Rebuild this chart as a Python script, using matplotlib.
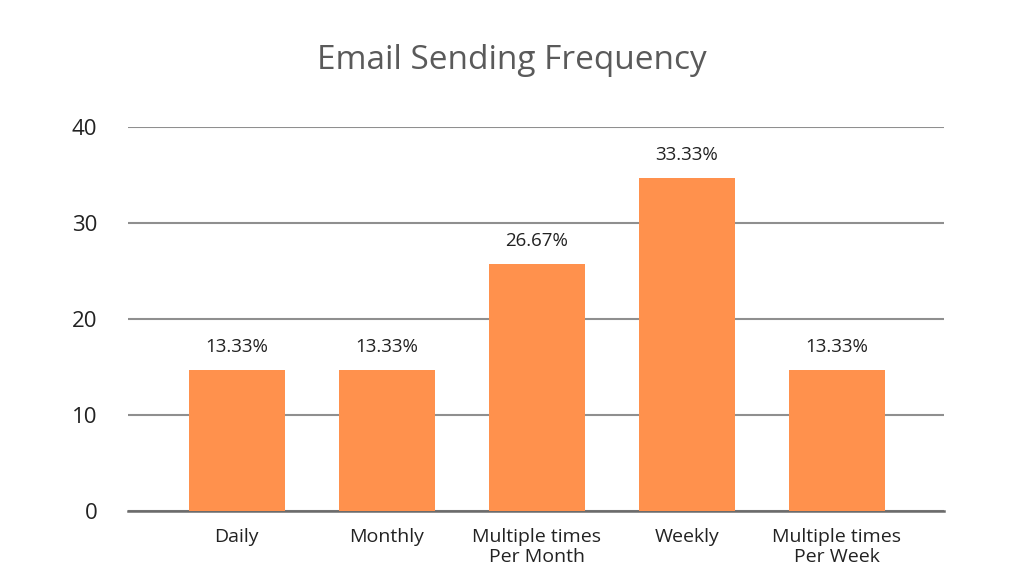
import matplotlib
matplotlib.use("Agg")
import matplotlib.pyplot as plt

categories = ["Daily", "Monthly", "Multiple times\nPer Month", "Weekly", "Multiple times\nPer Week"]
values = [14.7, 14.7, 25.7, 34.7, 14.7]
value_labels = ["13.33%", "13.33%", "26.67%", "33.33%", "13.33%"]
yticks = [0, 10, 20, 30, 40]

plt.rcParams['font.family'] = ['Open Sans', 'DejaVu Sans']

fig = plt.figure(figsize=(10.24, 5.77), dpi=100)
ax = fig.add_axes([0.125, 0.1144, 0.797, 0.6655])

x = list(range(len(categories)))
ax.bar(x, values, width=0.64, color="#FF914D", zorder=3)
ax.set_xlim(-0.725, 4.715)
ax.set_ylim(0, 40)
ax.set_yticks(yticks)
ax.set_yticklabels([str(t) for t in yticks], fontsize=16, color="#222222")
ax.yaxis.grid(True, color="#8f8f8f", linewidth=1.5, zorder=0)
ax.set_axisbelow(True)
ax.tick_params(axis="y", length=0, pad=22)
ax.tick_params(axis="x", length=0, pad=12)
ax.set_xticks(x)
ax.set_xticklabels(categories, fontsize=14, color="#222222", linespacing=1.2)
for s in ["top", "right", "left"]:
    ax.spines[s].set_visible(False)
ax.spines["bottom"].set_color("#6b6b6b")
ax.spines["bottom"].set_linewidth(1.8)

for xi, v, lab in zip(x, values, value_labels):
    ax.annotate(lab, (xi, v), xytext=(0, 10), textcoords="offset points",
                ha="center", va="bottom", fontsize=13.5, color="#222222")

fig.text(0.5, 0.895, "Email Sending Frequency", ha="center", va="center",
         fontsize=24, color="#5a5a5a")

fig.savefig("out.png", dpi=100, facecolor="white")
